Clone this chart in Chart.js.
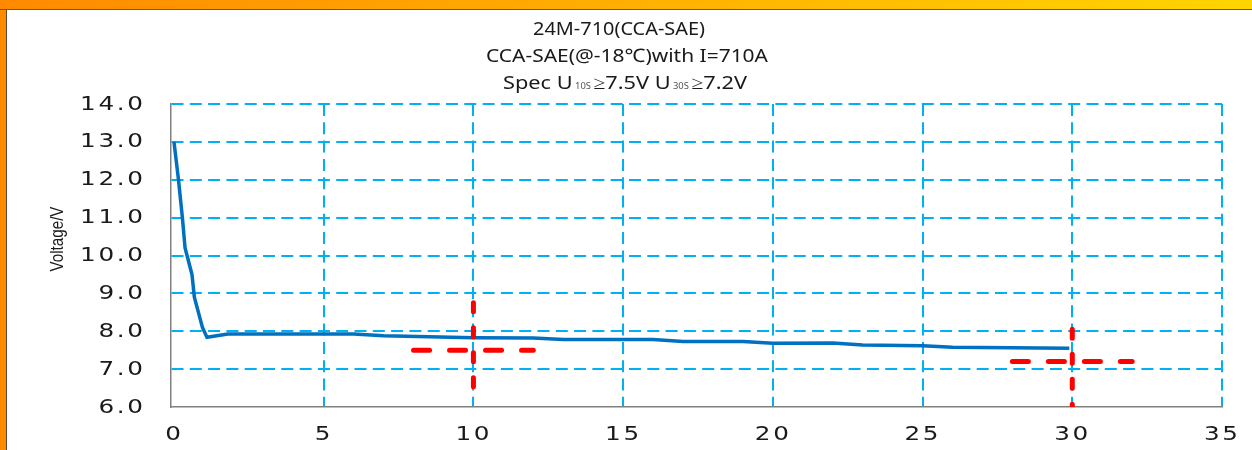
<!DOCTYPE html>
<html>
<head>
<meta charset="utf-8">
<script src="https://cdn.jsdelivr.net/npm/chart.js@4/dist/chart.umd.min.js"></script>
<style>
html, body { margin: 0; padding: 0; background: #fff; overflow: hidden; }
#left { position: absolute; left: 0; top: 0; width: 6px; height: 450px; background: #ff8c00; border-right: 1px solid #5a4a30; }
#top { position: absolute; left: 0; top: 0; width: 1252px; height: 9px; background: linear-gradient(to right, #ff8a00, #ffd500); border-bottom: 1px solid #6b5a3a; }
#chart { position: absolute; left: 7px; top: 10px; }
</style>
</head>
<body>
<div id="left"></div>
<div id="top"></div>
<canvas id="chart" width="1245" height="440"></canvas>
<script>
// discharge curve
var timeS = [0, 0.15, 0.28, 0.37, 0.6, 0.68, 0.95, 1.1, 1.8, 6, 7, 10, 12, 13, 16, 17, 19, 20, 22, 23, 25, 26, 29.9];
var voltage = [13.0, 12.0, 11.0, 10.2, 9.5, 8.9, 8.1, 7.84, 7.93, 7.93, 7.88, 7.83, 7.82, 7.78, 7.78, 7.73, 7.73, 7.68, 7.69, 7.64, 7.62, 7.58, 7.55];

// spec check points (U10s >= 7.5 V, U30s >= 7.2 V)
var specTime = [10, 30];
var specVoltage = [7.5, 7.2];
var crossLeft = [8, 28];
var crossRight = [12, 32];
var crossTop = [8.75, 8.05];
var crossBottom = [6.5, 6.0];

var xTicks = [0, 5, 10, 15, 20, 25, 30, 35];
var yTicks = [6, 7, 8, 9, 10, 11, 12, 13, 14];

var titleLine1 = '24M-710(CCA-SAE)';
var titleLine2 = 'CCA-SAE(@-18\u2103)with I=710A';
var titleLine3 = [['Spec U', 0], ['10S', 1], ['\u22657.5V U', 0], ['30S', 1], ['\u22657.2V', 0]];
var yTitle = 'Voltage/V';

function pts(xs, ys) {
  var out = [];
  for (var i = 0; i < xs.length; i++) out.push({x: xs[i], y: ys[i]});
  return out;
}

var datasets = [];
for (var i = 0; i < specTime.length; i++) {
  datasets.push({
    data: pts([specTime[i], specTime[i]], [crossTop[i], crossBottom[i]]),
    borderColor: '#ff0000', borderWidth: 5, borderDash: [9, 16], borderCapStyle: 'round',
    pointRadius: 0, order: 0
  });
  datasets.push({
    data: pts([crossLeft[i], crossRight[i]], [specVoltage[i], specVoltage[i]]),
    borderColor: '#ff0000', borderWidth: 5, borderDash: [16, 20], borderCapStyle: 'round',
    pointRadius: 0, order: 0
  });
}
datasets.push({
  data: pts(timeS, voltage),
  borderColor: '#0070c0', borderWidth: 3.5, pointRadius: 0, tension: 0, order: 1
});

// draw text line squeezed/stretched to a given width
function fitText(ctx, text, cx, y, width) {
  var m = ctx.measureText(text).width;
  ctx.save();
  ctx.translate(cx, y);
  ctx.scale(width / m, 1);
  ctx.textAlign = 'center';
  ctx.fillText(text, 0, 0);
  ctx.restore();
}

var decor = {
  id: 'decor',
  afterDraw: function (chart) {
    var ctx = chart.ctx;
    var xs = chart.scales.x, ys = chart.scales.y;
    ctx.save();
    ctx.fillStyle = '#1a1a1a';
    ctx.textBaseline = 'alphabetic';

    // tick labels (wide, spaced face)
    ctx.font = '19px "DejaVu Sans"';
    ctx.letterSpacing = '2px';
    ys.ticks.forEach(function (t) {
      var py = ys.getPixelForValue(t.value);
      ctx.save();
      ctx.translate(138.5, py + 5.6);
      ctx.scale(1.3, 1);
      ctx.textAlign = 'right';
      ctx.fillText(t.value.toFixed(1), 0, 0);
      ctx.restore();
    });
    xs.ticks.forEach(function (t) {
      var px = xs.getPixelForValue(t.value);
      ctx.save();
      ctx.translate(px + 0.3, 430.4);
      ctx.scale(1.3, 1);
      ctx.textAlign = 'center';
      ctx.fillText(String(t.value), 0, 0);
      ctx.restore();
    });
    ctx.letterSpacing = '0px';

    // titles
    ctx.font = '18.5px "Noto Sans"';
    fitText(ctx, titleLine1, 612, 25, 172);
    fitText(ctx, titleLine2, 620, 52.3, 282);
    // third line with small subscripts
    ctx.textAlign = 'left';
    var w = 0, widths = [];
    titleLine3.forEach(function (s) {
      ctx.font = s[1] ? '8px "Noto Sans"' : '18.5px "Noto Sans"';
      var ww = ctx.measureText(s[0]).width + (s[1] ? 4 : 0);
      widths.push(ww); w += ww;
    });
    var sx = 244 / w;
    ctx.save();
    ctx.translate(618 - 122, 79.3);
    ctx.scale(sx, 1);
    var x = 0;
    titleLine3.forEach(function (s, k) {
      ctx.font = s[1] ? '8px "Noto Sans"' : '18.5px "Noto Sans"';
      ctx.fillStyle = s[1] ? '#555' : '#1a1a1a';
      ctx.fillText(s[0], x + (s[1] ? 2 : 0), 0);
      x += widths[k];
    });
    ctx.restore();

    // y axis title
    ctx.fillStyle = '#1a1a1a';
    ctx.translate(50.5, 229);
    ctx.rotate(-Math.PI / 2);
    ctx.font = '19px "Liberation Sans"';
    var tw = ctx.measureText(yTitle).width;
    ctx.scale(65 / tw, 1);
    ctx.textAlign = 'center';
    ctx.textBaseline = 'middle';
    ctx.fillText(yTitle, 0, 0);
    ctx.restore();
  }
};

new Chart(document.getElementById('chart'), {
  type: 'line',
  data: { datasets: datasets },
  plugins: [decor],
  options: {
    responsive: false,
    animation: false,
    devicePixelRatio: 1,
    layout: { padding: { top: 94, right: 30, left: 0, bottom: 0 } },
    plugins: { legend: { display: false }, title: { display: false }, tooltip: { enabled: false } },
    scales: {
      x: {
        type: 'linear', min: -0.1, max: 35,
        afterBuildTicks: function (s) { s.ticks = xTicks.map(function (v) { return {value: v}; }); },
        afterFit: function (s) { s.height = 43; },
        grid: {
          drawTicks: false, lineWidth: 2,
          color: function (c) { return c.tick && c.tick.value > 0 ? '#00b0f0' : 'rgba(0,0,0,0)'; }
        },
        border: { display: true, color: '#808080', width: 1.5, dash: [12, 6.3] },
        ticks: { display: false }
      },
      y: {
        min: 6, max: 14,
        afterBuildTicks: function (s) { s.ticks = yTicks.map(function (v) { return {value: v}; }); },
        afterFit: function (s) { s.width = 164; },
        grid: {
          drawTicks: false, lineWidth: 2,
          color: function (c) { return c.tick && c.tick.value > 6 ? '#00b0f0' : 'rgba(0,0,0,0)'; }
        },
        border: { display: true, color: '#808080', width: 1.5, dash: [12, 6.3] },
        ticks: { display: false }
      }
    }
  }
});
</script>
</body>
</html>
